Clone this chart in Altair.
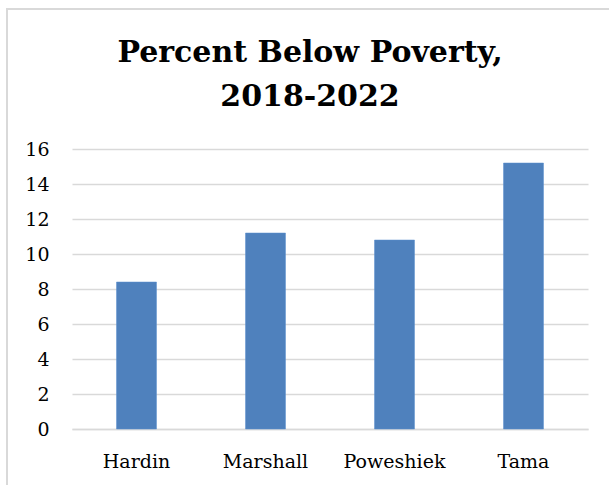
import altair as alt
import pandas as pd

counties = ["Hardin", "Marshall", "Poweshiek", "Tama"]
percent_below = [8.4, 11.2, 10.8, 15.2]
y_ticks = [0, 2, 4, 6, 8, 10, 12, 14, 16]

df = pd.DataFrame({"county": counties, "pct": percent_below})

FONT = "DejaVu Serif"
GRID = "#D9D9D9"

bars = alt.Chart(df).mark_bar(color="#4F81BD", stroke="#5B8FCF", strokeWidth=0.5).encode(
    x=alt.X(
        "county:N",
        sort=counties,
        title=None,
        scale=alt.Scale(paddingInner=0.69, paddingOuter=0.345),
        axis=alt.Axis(
            labelAngle=0,
            labelFont=FONT,
            labelFontSize=19,
            labelColor="#000000",
            labelPadding=23,
            ticks=False,
            grid=False,
            domain=True,
            domainColor=GRID,
            domainWidth=1.5,
        ),
    ),
    y=alt.Y(
        "pct:Q",
        title=None,
        scale=alt.Scale(domain=[0, 16], nice=False),
        axis=alt.Axis(
            values=y_ticks,
            labelFont=FONT,
            labelFontSize=19,
            labelColor="#000000",
            labelPadding=23,
            ticks=False,
            domain=False,
            gridColor=GRID,
            gridWidth=1.5,
        ),
    ),
)

frame = alt.Chart(alt.Data(values=[{"a": 1}])).mark_rect(
    fill="transparent", stroke=GRID, strokeWidth=2
).encode(
    x=alt.value(-65),
    y=alt.value(-140),
    x2=alt.value(600),
    y2=alt.value(400),
)

chart = alt.layer(frame, bars).properties(
    width=516,
    height=280,
    view=alt.ViewBackground(stroke="transparent", strokeWidth=0),
    title=alt.TitleParams(
        text=["Percent Below Poverty,", "2018-2022"],
        font=FONT,
        fontSize=30,
        fontWeight="bold",
        color="#000000",
        anchor="middle",
        lineHeight=44,
        dx=-20,
        dy=124,
        offset=20,
    ),
    autosize=alt.AutoSizeParams(type="none"),
    padding={"left": 72, "top": 149, "right": 21, "bottom": 56},
).configure_view(strokeWidth=0, stroke="transparent").configure(background="#FFFFFF")

chart.save("out.html", embed_options={"renderer": "svg", "actions": False})
